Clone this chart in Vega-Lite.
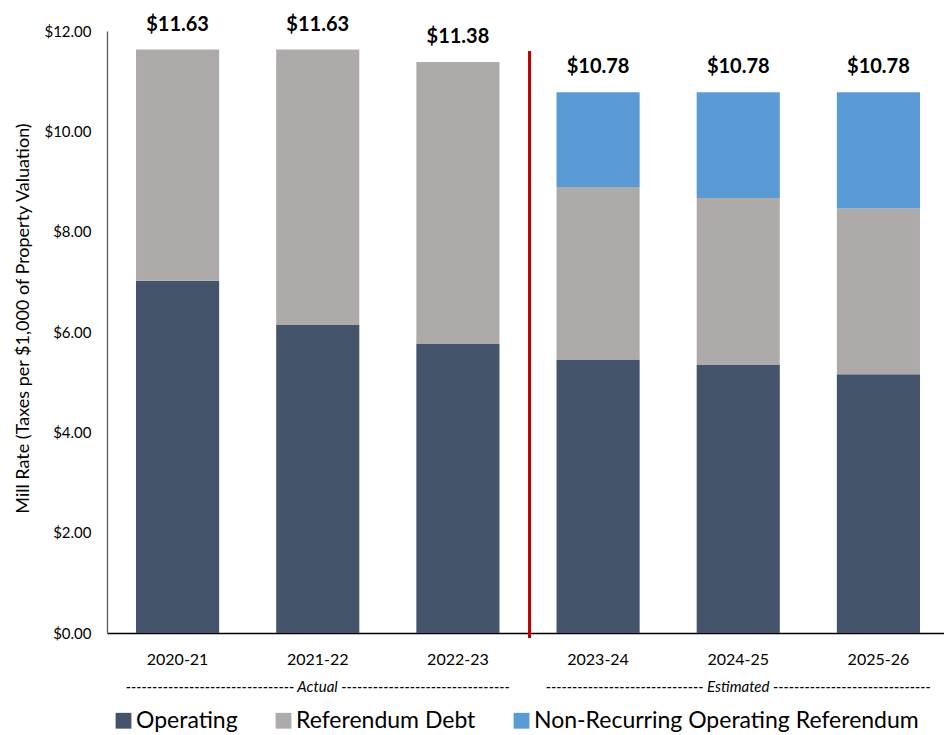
{
  "$schema": "https://vega.github.io/schema/vega-lite/v6.json",
  "autosize": "none",
  "width": 837,
  "height": 602,
  "padding": {"left": 107, "top": 31, "right": 0, "bottom": 102},
  "background": "white",
  "config": {
    "font": "Lato",
    "view": {"stroke": null},
    "axis": {"grid": false, "labelFont": "Lato", "titleFont": "Lato", "labelColor": "#000000", "titleColor": "#000000"}
  },
  "datasets": {
    "rates": [
      {"year": "2020-21", "cat": "Operating", "value": 7.02},
      {"year": "2020-21", "cat": "Referendum Debt", "value": 4.61},
      {"year": "2021-22", "cat": "Operating", "value": 6.15},
      {"year": "2021-22", "cat": "Referendum Debt", "value": 5.48},
      {"year": "2022-23", "cat": "Operating", "value": 5.77},
      {"year": "2022-23", "cat": "Referendum Debt", "value": 5.61},
      {"year": "2023-24", "cat": "Operating", "value": 5.45},
      {"year": "2023-24", "cat": "Referendum Debt", "value": 3.44},
      {"year": "2023-24", "cat": "Non-Recurring Operating Referendum", "value": 1.89},
      {"year": "2024-25", "cat": "Operating", "value": 5.35},
      {"year": "2024-25", "cat": "Referendum Debt", "value": 3.32},
      {"year": "2024-25", "cat": "Non-Recurring Operating Referendum", "value": 2.11},
      {"year": "2025-26", "cat": "Operating", "value": 5.16},
      {"year": "2025-26", "cat": "Referendum Debt", "value": 3.30},
      {"year": "2025-26", "cat": "Non-Recurring Operating Referendum", "value": 2.32}
    ],
    "periods": [
      {"year": "2021-22", "label": "-------------------------------- Actual --------------------------------"},
      {"year": "2024-25", "label": "------------------------------ Estimated ------------------------------"}
    ],
    "divider": [{"year": "2023-24"}]
  },
  "encoding": {
    "x": {
      "field": "year", "type": "nominal", "sort": null,
      "scale": {"range": [0, 842], "paddingInner": 0.407, "paddingOuter": 0.207},
      "axis": {"title": null, "labelAngle": 0, "labelFontSize": 16, "labelPadding": 18, "ticks": false, "domainColor": "#000000", "domainWidth": 1.3}
    }
  },
  "layer": [
    {
      "data": {"name": "rates"},
      "transform": [
        {"calculate": "indexof(['Operating','Referendum Debt','Non-Recurring Operating Referendum'], datum.cat)", "as": "ord"}
      ],
      "mark": {"type": "bar"},
      "encoding": {
        "y": {
          "field": "value", "type": "quantitative", "stack": "zero",
          "scale": {"domain": [0, 12], "nice": false},
          "axis": {
            "title": "Mill Rate (Taxes per $1,000 of Property Valuation)",
            "titleFontSize": 18, "titleFontWeight": "normal",
            "titleX": -75, "titleY": 287, "titleAngle": -90, "titleBaseline": "bottom", "titleAlign": "center",
            "values": [0, 2, 4, 6, 8, 10, 12], "format": "$.2f",
            "labelFontSize": 15, "labelPadding": 16, "ticks": false,
            "domainColor": "#595959", "domainWidth": 1.3
          }
        },
        "color": {
          "field": "cat", "type": "nominal",
          "scale": {
            "domain": ["Operating", "Referendum Debt", "Non-Recurring Operating Referendum"],
            "range": ["#44546A", "#AEAAAA", "#5B9BD5"]
          },
          "legend": {
            "title": null, "orient": "none", "direction": "horizontal",
            "legendX": 5, "legendY": 678, "padding": 0,
            "symbolType": "square", "symbolSize": 250, "symbolStrokeWidth": 0,
            "labelFontSize": 23, "labelFont": "Lato", "labelColor": "#000000",
            "labelOffset": 1, "columnPadding": 34, "labelLimit": 500
          }
        },
        "order": {"field": "ord", "type": "quantitative"}
      }
    },
    {
      "data": {"name": "rates"},
      "transform": [
        {"aggregate": [{"op": "sum", "field": "value", "as": "total"}], "groupby": ["year"]}
      ],
      "mark": {"type": "text", "fontSize": 20, "fontWeight": "bold", "baseline": "alphabetic", "dy": -19, "color": "#000000"},
      "encoding": {
        "y": {"field": "total", "type": "quantitative"},
        "text": {"field": "total", "type": "quantitative", "format": "$.2f"}
      }
    },
    {
      "data": {"name": "periods"},
      "mark": {"type": "text", "fontSize": 15, "fontStyle": "italic", "baseline": "middle", "color": "#000000", "clip": false},
      "encoding": {
        "y": {"datum": -1.08},
        "text": {"field": "label"}
      }
    },
    {
      "data": {"name": "divider"},
      "mark": {"type": "rule", "color": "#C00000", "strokeWidth": 3, "xOffset": -27, "clip": false},
      "encoding": {
        "x": {"field": "year", "type": "nominal", "bandPosition": 0},
        "y": {"datum": 11.6},
        "y2": {"datum": -0.1}
      }
    }
  ]
}
